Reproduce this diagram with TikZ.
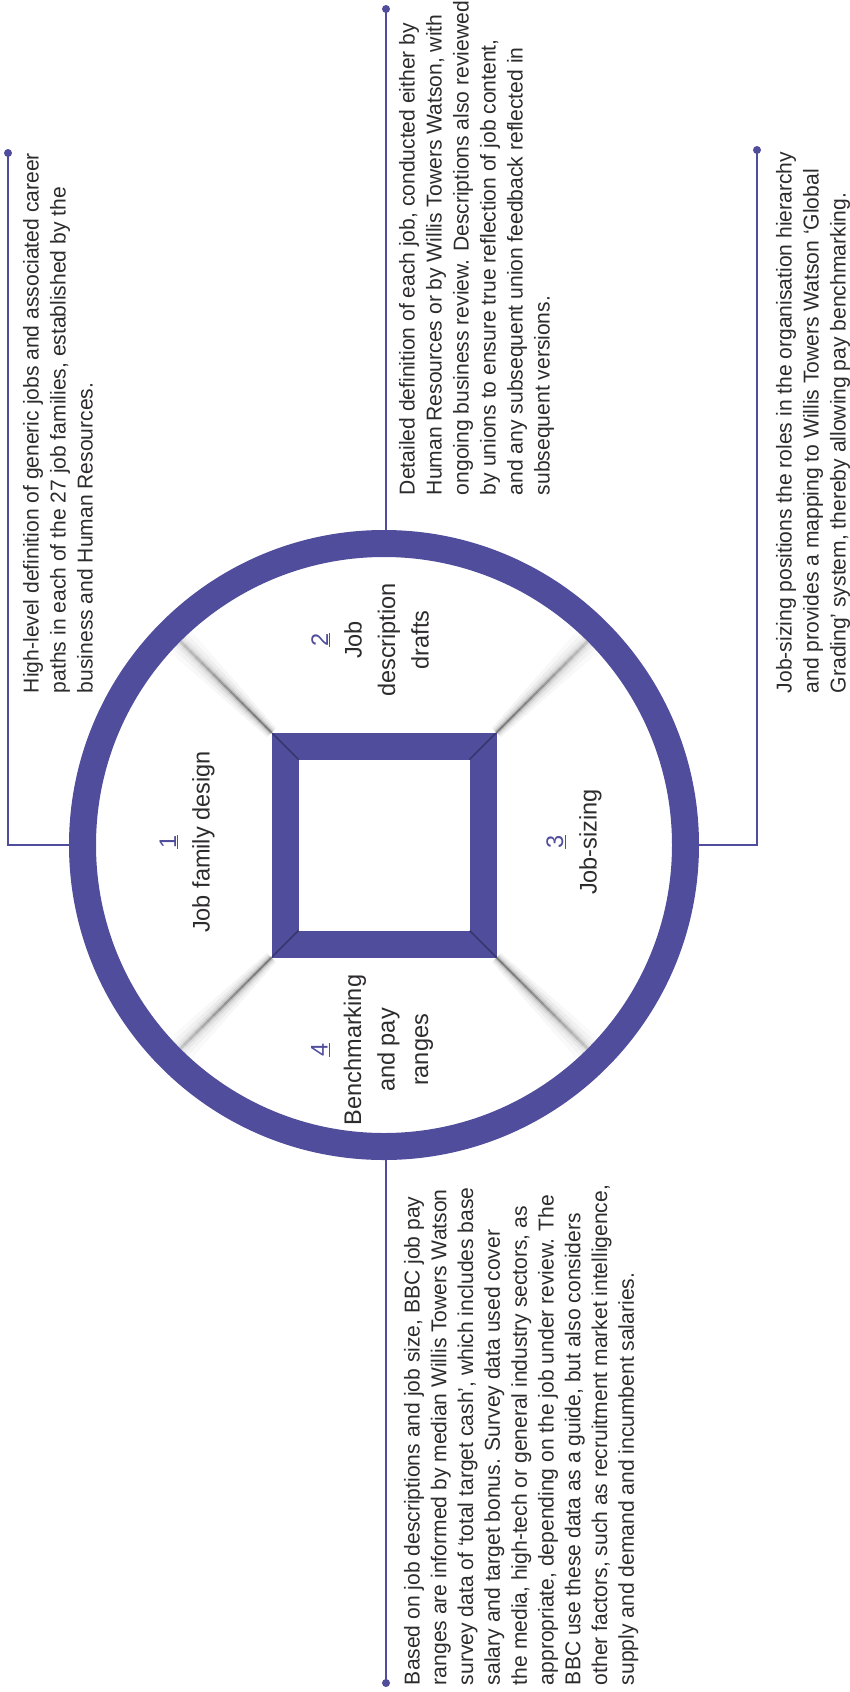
\documentclass[tikz,border=0pt]{standalone}
\usepackage{fontspec}
\setmainfont{Liberation Sans}[FakeStretch=0.98]
\definecolor{ringblue}{RGB}{80,77,156}
\definecolor{txt}{RGB}{45,43,45}
\begin{document}
\begin{tikzpicture}[x=1pt,y=-1pt,
  desc/.style={rotate=90, anchor=north west, inner sep=0pt, outer sep=0pt, align=left,
    font=\fontsize{21.5}{27}\selectfont, text=txt},
  lab/.style={rotate=90, anchor=center, inner sep=0pt, align=center,
    font=\fontsize{24}{33.5}\selectfont, text=txt},
  conn/.style={draw=ringblue, line width=1.6pt},
  enddot/.style={circle, fill=ringblue, inner sep=0pt, minimum size=8pt}]
\useasboundingbox (0,0) rectangle (850,1692);

% soft shadows along the diagonals (layered strokes, fading outwards)
\foreach \sx/\sy in {-1/-1, 1/-1, -1/1, 1/1}{
  \foreach \k in {0,...,15}{
    \pgfmathsetmacro\ta{112.5+92.5*\k/16}
    \pgfmathsetmacro\tb{112.5+92.5*(\k+1)/16}
    \pgfmathsetmacro\f{1-0.7*\k/16}
    \pgfmathsetmacro\g{0.5+0.7*\k/16}
    \foreach \w/\o in {26/0.05, 18/0.07, 11/0.10, 6/0.15, 2.5/0.35}{
      \pgfmathsetmacro\lw{\w*\g}
      \pgfmathsetmacro\op{\o*\f}
      \draw[black, line width=\lw pt, draw opacity=\op]
        ({384+\sx*\ta},{845+\sy*\ta}) -- ({384+\sx*\tb},{845+\sy*\tb});
    }
  }
}

% end dots of the connectors
\node[enddot] (dA) at (8,153) {};
\node[enddot] (dB) at (386,9) {};
\node[enddot] (dC) at (757,150) {};
\node[enddot] (dD) at (386,1683) {};

% ring and square
\node[circle, draw=ringblue, line width=27pt, minimum size=603pt, inner sep=0pt] (ring) at (384,845) {};
\node[rectangle, draw=ringblue, line width=27pt, minimum size=198pt, inner sep=0pt] (sq) at (384,845) {};

% connectors
\coordinate (cA) at (8,845);
\coordinate (cC) at (757,845);
\draw[conn] (dA.center) -- (cA) -- (ring.west);
\draw[conn] (dB.center) -- (dB.center |- ring.north);
\draw[conn] (dC.center) -- (cC) -- (ring.east);
\draw[conn] (dD.center) -- (dD.center |- ring.south);

% seams at the square corners
\foreach \sx/\sy in {-1/-1, 1/-1, -1/1, 1/1}{
  \draw[black, line width=1.5pt, draw opacity=0.3]
    ({384+\sx*112.5},{845+\sy*112.5}) -- ({384+\sx*85.5},{845+\sy*85.5});
}

% labels inside the circle
\node[lab] (l1) at (187,842) {\textcolor{ringblue}{\underline{1}}\\Job family design};
\node[lab] (l2) at (370,640) {\textcolor{ringblue}{\underline{2}}\\Job\\description\\drafts};
\node[lab] (l3) at (574,842) {\textcolor{ringblue}{\underline{3}}\\Job-sizing};
\node[lab] (l4) at (372,1050) {\textcolor{ringblue}{\underline{4}}\\Benchmarking\\and pay\\ranges};

% description texts
\node[desc] (tA) at (23,693) {High-level definition of generic jobs and associated career\\
paths in each of the 27 job families, established by the\\
business and Human Resources.};

\node[desc] (tB) at (399,495) {Detailed definition of each job, conducted either by\\
Human Resources or by Willis Towers Watson, with\\
ongoing business review. Descriptions also reviewed\\
by unions to ensure true reflection of job content,\\
and any subsequent union feedback reflected in\\
subsequent versions.};

\node[desc] (tC) at (776,693) {Job-sizing positions the roles in the organisation hierarchy\\
and provides a mapping to Willis Towers Watson ‘Global\\
Grading’ system, thereby allowing pay benchmarking.};

\node[desc, font=\fontsize{21.5}{26.8}\selectfont] (tD) at (404,1685) {Based on job descriptions and job size, BBC job pay\\
ranges are informed by median Willis Towers Watson\\
survey data of ‘total target cash’, which includes base\\
salary and target bonus. Survey data used cover\\
the media, high-tech or general industry sectors, as\\
appropriate, depending on the job under review. The\\
BBC use these data as a guide, but also considers\\
other factors, such as recruitment market intelligence,\\
supply and demand and incumbent salaries.};
\end{tikzpicture}
\end{document}
